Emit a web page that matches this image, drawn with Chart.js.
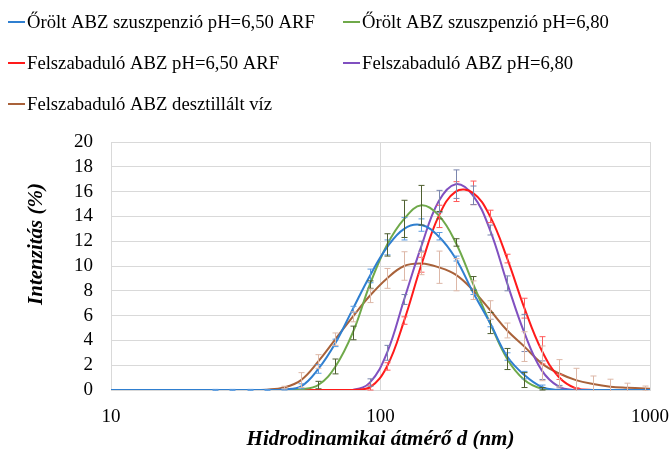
<!DOCTYPE html>
<html>
<head>
<meta charset="utf-8">
<script src="https://cdn.jsdelivr.net/npm/chart.js@4.4.1/dist/chart.umd.min.js"></script>
<style>
  html, body { margin: 0; padding: 0; background: #fff; }
</style>
</head>
<body>
<canvas id="myChart" width="671" height="449"></canvas>
<script>
// particle size bins (nm)
var sizes = [8.721, 10.1, 11.7, 13.54, 15.69, 18.17, 21.04, 24.36, 28.21, 32.67, 37.84, 43.82, 50.75, 58.77, 68.06, 78.82, 91.28, 105.7, 122.4, 141.8, 164.2, 190.1, 220.2, 255.0, 295.3, 342.0, 396.1, 458.7, 531.2, 615.1, 712.4, 825.0, 955.4, 1106]

var labels = ['Őrölt ABZ szuszpenzió pH=6,50 ARF', 'Őrölt ABZ szuszpenzió pH=6,80', 'Felszabaduló ABZ pH=6,50 ARF', 'Felszabaduló ABZ pH=6,80', 'Felszabaduló ABZ desztillált víz']

// intensity (%)
var oroltArf = [0, 0, 0, 0, 0, 0, 0, 0, 0, 0, 0, 0.05, 0.3, 1.7, 3.8, 6.5, 9.2, 11.5, 13.0, 13.3, 12.4, 10.6, 7.9, 5.4, 2.7, 1.2, 0.25, 0, 0, 0, 0, 0, 0, 0]
var orolt680 = [0, 0, 0, 0, 0, 0, 0, 0, 0, 0, 0, 0, 0.05, 0.4, 1.9, 4.6, 8.5, 11.7, 13.8, 14.9, 14.1, 11.9, 8.6, 5.4, 2.5, 0.8, 0.1, 0, 0, 0, 0, 0, 0, 0]
var felszArf = [0, 0, 0, 0, 0, 0, 0, 0, 0, 0, 0, 0, 0, 0, 0, 0, 0.2, 1.9, 5.6, 10.1, 14.0, 16.0, 15.9, 14.0, 10.6, 6.6, 3.2, 1.05, 0.13, 0, 0, 0, 0, 0]
var felsz680 = [0, 0, 0, 0, 0, 0, 0, 0, 0, 0, 0, 0, 0, 0, 0, 0, 0.6, 3.0, 7.3, 11.6, 15.2, 16.6, 15.7, 12.9, 8.6, 4.6, 1.6, 0.27, 0, 0, 0, 0, 0, 0]
var felszViz = [0, 0, 0, 0, 0, 0, 0, 0, 0, 0, 0.03, 0.2, 0.8, 2.3, 4.1, 5.9, 7.6, 9.0, 10.0, 10.2, 9.9, 9.3, 8.05, 6.45, 4.8, 3.5, 2.15, 1.35, 0.8, 0.48, 0.27, 0.18, 0.12, 0.08]

// standard deviations
var errOroltArf = [0, 0, 0, 0, 0, 0, 0, 0.05, 0.05, 0.05, 0.05, 0.05, 0.2, 0.35, 0.3, 0.25, 0.55, 0.6, 0.9, 0.5, 0.3, 0.2, 0.2, 0.3, 0.3, 0.3, 0.15, 0, 0, 0, 0, 0, 0, 0]
var errOrolt680 = [0, 0, 0, 0, 0, 0, 0, 0, 0, 0, 0, 0, 0, 0.3, 0.6, 0.55, 0.3, 0.9, 1.5, 1.6, 0.3, 0.3, 0.55, 0.85, 0.85, 0.6, 0.1, 0, 0, 0, 0, 0, 0, 0]
var errFelszArf = [0, 0, 0, 0, 0, 0, 0, 0, 0, 0, 0, 0, 0, 0, 0, 0, 0.2, 0.3, 0.3, 0.6, 0.9, 0.8, 0.95, 0.5, 0.35, 0.8, 1.1, 0.2, 0.05, 0, 0, 0, 0, 0]
var errFelsz680 = [0, 0, 0, 0, 0, 0, 0, 0, 0, 0, 0, 0, 0, 0, 0, 0, 0.3, 0.6, 0.4, 0.4, 0.9, 1.15, 0.75, 0.4, 0.6, 1.5, 0.75, 0.1, 0, 0, 0, 0, 0, 0]
var errFelszViz = [0, 0, 0, 0, 0, 0, 0, 0, 0, 0, 0, 0.1, 0.6, 0.55, 0.5, 0.4, 0.55, 0.8, 1.15, 0.9, 1.3, 1.3, 0.75, 0.75, 0.6, 1.2, 1.4, 1.1, 0.95, 0.65, 0.6, 0.37, 0.2, 0]

var xTicks = [10, 100, 1000]

var lineColors = ['#2F7FD0', '#6FA94A', '#FF1A1A', '#8050C0', '#A9623A']
var errColors = ['#5A9BE0', '#4E5F30', '#FF5A5A', '#7B86AE', '#DDB8A8']

var allValues = [oroltArf, orolt680, felszArf, felsz680, felszViz]
var allErrors = [errOroltArf, errOrolt680, errFelszArf, errFelsz680, errFelszViz]

var SERIF = "'Liberation Serif'"

// error bars, drawn through the chart's own scales
var errorBarPlugin = {
    id: 'errorBars',
    afterDatasetsDraw: function (chart) {
        var ctx = chart.ctx
        var xs = chart.scales.x
        var ys = chart.scales.y
        var area = chart.chartArea
        ctx.save()
        ctx.beginPath()
        ctx.rect(area.left, area.top - 1, area.right - area.left, area.bottom - area.top + 2)
        ctx.clip()
        ctx.lineWidth = 1
        chart.data.datasets.forEach(function (ds, k) {
            ctx.strokeStyle = errColors[k]
            ds.errors.forEach(function (e, i) {
                if (!e) return
                var v = ds.data[i].y
                var x = Math.round(xs.getPixelForValue(sizes[i])) + 0.5
                var yTop = ys.getPixelForValue(v + e)
                var yBot = ys.getPixelForValue(v - e)
                ctx.beginPath()
                ctx.moveTo(x, yTop)
                ctx.lineTo(x, yBot)
                ctx.moveTo(x - 3, yTop)
                ctx.lineTo(x + 3, yTop)
                ctx.moveTo(x - 3, yBot)
                ctx.lineTo(x + 3, yBot)
                ctx.stroke()
            })
        })
        ctx.restore()
    }
}

// legend in two columns + axis titles
var decorPlugin = {
    id: 'decor',
    afterDraw: function (chart) {
        var ctx = chart.ctx
        var area = chart.chartArea
        ctx.save()
        var pos = [[8, 22], [343, 22], [8, 63], [343, 63], [8, 104]]
        ctx.font = '18.67px ' + SERIF
        ctx.textBaseline = 'middle'
        ctx.textAlign = 'left'
        chart.data.datasets.forEach(function (ds, k) {
            var p = pos[k]
            ctx.strokeStyle = lineColors[k]
            ctx.lineWidth = 2
            ctx.beginPath()
            ctx.moveTo(p[0], p[1])
            ctx.lineTo(p[0] + 17, p[1])
            ctx.stroke()
            ctx.fillStyle = '#000'
            ctx.fillText(ds.label, p[0] + 19, p[1] + 1)
        })

        ctx.font = 'italic bold 21px ' + SERIF
        ctx.textAlign = 'center'
        ctx.fillText('Hidrodinamikai átmérő d (nm)', (area.left + area.right) / 2, 440)

        ctx.translate(37, 244)
        ctx.rotate(-Math.PI / 2)
        ctx.fillText('Intenzitás (%)', 0, 0)
        ctx.restore()
    }
}

var ctx = document.getElementById('myChart').getContext('2d')
var chart = new Chart(ctx, {
    type: 'line',
    data: {
        datasets: allValues.map(function (vals, k) {
            return {
                label: labels[k],
                data: sizes.map(function (s, i) { return { x: s, y: vals[i] } }),
                errors: allErrors[k],
                borderColor: lineColors[k],
                backgroundColor: lineColors[k],
                borderWidth: 2,
                pointRadius: 0,
                tension: 0.4,
                fill: false
            }
        })
    },
    options: {
        responsive: false,
        animation: false,
        layout: { padding: { top: 142, right: 21, left: 0, bottom: 0 } },
        plugins: {
            legend: { display: false },
            tooltip: { enabled: false }
        },
        scales: {
            x: {
                type: 'logarithmic',
                min: 10,
                max: 1000,
                afterBuildTicks: function (scale) {
                    scale.ticks = xTicks.map(function (v) { return { value: v } })
                },
                afterFit: function (scale) {
                    scale.height = 59
                    scale.paddingLeft = 0
                    scale.paddingRight = 0
                },
                ticks: {
                    autoSkip: false,
                    maxRotation: 0,
                    padding: 16,
                    color: '#000',
                    font: { family: SERIF, size: 19 },
                    callback: function (v) { return String(v) }
                },
                grid: { color: '#D9D9D9', drawTicks: false },
                border: { color: '#D9D9D9' }
            },
            y: {
                min: 0,
                max: 20,
                afterFit: function (scale) { scale.width = 111 },
                ticks: {
                    stepSize: 2,
                    autoSkip: false,
                    padding: 18,
                    color: '#000',
                    font: { family: SERIF, size: 19 }
                },
                grid: { color: '#D9D9D9', drawTicks: false },
                border: { display: false }
            }
        }
    },
    plugins: [errorBarPlugin, decorPlugin]
})
</script>
</body>
</html>
